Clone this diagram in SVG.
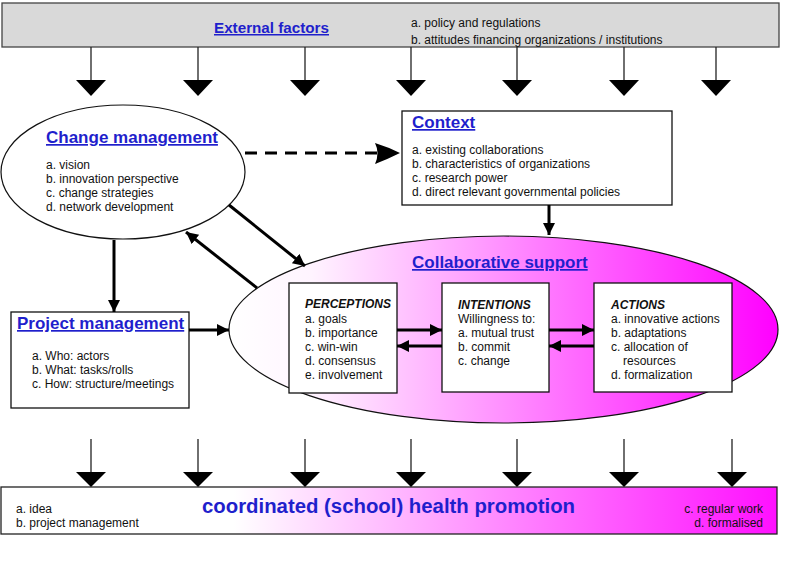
<svg xmlns="http://www.w3.org/2000/svg" width="785" height="588" viewBox="0 0 785 588">
<style>
text{font-family:"Liberation Sans",Arial,sans-serif;fill:#111}
.t{font-size:12px}
.h{font-size:17px;font-weight:bold;fill:#1f1fcc;text-decoration:underline}
.hi{font-size:12px;font-weight:bold;font-style:italic}
.box{fill:#fff;stroke:#111;stroke-width:1.3}
.thin{stroke:#222;stroke-width:1.3;fill:none}
.tri{fill:#000}
.thick{stroke:#000;stroke-width:3;fill:none}
</style>
<defs>
<linearGradient id="gCS" x1="0" y1="0" x2="1" y2="0">
<stop offset="0" stop-color="#ffffff"/>
<stop offset="0.15" stop-color="#fff4ff"/>
<stop offset="1" stop-color="#ff00ff"/>
</linearGradient>
<linearGradient id="gBot" x1="0" y1="0" x2="1" y2="0">
<stop offset="0" stop-color="#ffffff"/>
<stop offset="0.3" stop-color="#ffffff"/>
<stop offset="1" stop-color="#ff10ff"/>
</linearGradient>
<marker id="ah" markerUnits="userSpaceOnUse" markerWidth="14" markerHeight="14" refX="12" refY="6" orient="auto">
<path d="M0,0 L12,6 L0,12 Z" fill="#000"/>
</marker>
</defs>

<g id="external-factors">
<rect x="2" y="3" width="777" height="44" fill="#d9d9d9" stroke="#444" stroke-width="1.3"/>
<text class="h" x="214" y="33" font-size="15" textLength="115" lengthAdjust="spacingAndGlyphs" style="font-size:15px">External factors</text>
<text class="t" x="411" y="27">a. policy and regulations</text>
<text class="t" x="411" y="44">b. attitudes financing organizations / institutions</text>
</g>

<g id="change-management">
<ellipse cx="123" cy="172" rx="122" ry="67" fill="#fff" stroke="#111" stroke-width="1.2"/>
<text class="h" x="46" y="143">Change management</text>
<text class="t" x="46" y="169">a. vision</text>
<text class="t" x="46" y="183">b. innovation perspective</text>
<text class="t" x="46" y="197">c. change strategies</text>
<text class="t" x="46" y="211">d. network development</text>
</g>

<g id="context">
<rect class="box" x="402" y="111" width="270" height="94"/>
<text class="h" x="412" y="128">Context</text>
<text class="t" x="412" y="154">a. existing collaborations</text>
<text class="t" x="412" y="168">b. characteristics of organizations</text>
<text class="t" x="412" y="182">c. research power</text>
<text class="t" x="412" y="196">d. direct relevant governmental policies</text>
</g>

<g id="collaborative-support">
<ellipse cx="503.5" cy="329.5" rx="274.5" ry="93.5" fill="url(#gCS)" stroke="#111" stroke-width="1.2"/>
<text class="h" x="412" y="268">Collaborative support</text>
</g>

<g id="perceptions">
<rect class="box" x="289" y="283" width="108" height="110"/>
<text class="hi" x="305" y="308">PERCEPTIONS</text>
<text class="t" x="305" y="323">a. goals</text>
<text class="t" x="305" y="337">b. importance</text>
<text class="t" x="305" y="351">c. win-win</text>
<text class="t" x="305" y="365">d. consensus</text>
<text class="t" x="305" y="379">e. involvement</text>
</g>

<g id="intentions">
<rect class="box" x="442" y="283" width="107" height="109"/>
<text class="hi" x="458" y="309">INTENTIONS</text>
<text class="t" x="458" y="323">Willingness to:</text>
<text class="t" x="458" y="337">a. mutual trust</text>
<text class="t" x="458" y="351">b. commit</text>
<text class="t" x="458" y="365">c. change</text>
</g>

<g id="actions">
<rect class="box" x="594" y="283" width="138" height="109"/>
<text class="hi" x="611" y="309">ACTIONS</text>
<text class="t" x="611" y="323">a. innovative actions</text>
<text class="t" x="611" y="337">b. adaptations</text>
<text class="t" x="611" y="351">c. allocation of</text>
<text class="t" x="623" y="365">resources</text>
<text class="t" x="611" y="379">d. formalization</text>
</g>

<g id="project-management">
<rect class="box" x="11" y="312" width="178" height="96"/>
<text class="h" x="17" y="329">Project management</text>
<text class="t" x="32" y="360">a.  Who: actors</text>
<text class="t" x="32" y="374">b.  What: tasks/rolls</text>
<text class="t" x="32" y="388">c.  How: structure/meetings</text>
</g>

<g id="health-promotion">
<rect x="1" y="487" width="776" height="47" fill="url(#gBot)" stroke="#222" stroke-width="1.3"/>
<text class="t" x="16" y="513">a. idea</text>
<text class="t" x="16" y="527">b. project management</text>
<text x="202" y="513" textLength="373" lengthAdjust="spacingAndGlyphs" style="font-size:20px;font-weight:bold;fill:#1f1fcc">coordinated (school) health promotion</text>
<text class="t" x="763" y="513" text-anchor="end">c. regular work</text>
<text class="t" x="763" y="527" text-anchor="end">d. formalised</text>
</g>

<g id="connectors">
<!-- top arrows -->
<g>
<line class="thin" x1="91" y1="47" x2="91" y2="81"/><path class="tri" d="M76,80 L106,80 L91,96 Z"/>
<line class="thin" x1="198" y1="47" x2="198" y2="81"/><path class="tri" d="M183,80 L213,80 L198,96 Z"/>
<line class="thin" x1="305" y1="47" x2="305" y2="81"/><path class="tri" d="M290,80 L320,80 L305,96 Z"/>
<line class="thin" x1="411" y1="47" x2="411" y2="81"/><path class="tri" d="M396,80 L426,80 L411,96 Z"/>
<line class="thin" x1="517" y1="47" x2="517" y2="81"/><path class="tri" d="M502,80 L532,80 L517,96 Z"/>
<line class="thin" x1="624" y1="47" x2="624" y2="81"/><path class="tri" d="M609,80 L639,80 L624,96 Z"/>
<line class="thin" x1="716" y1="47" x2="716" y2="81"/><path class="tri" d="M701,80 L731,80 L716,96 Z"/>
</g>
<!-- bottom arrows -->
<g>
<line class="thin" x1="91" y1="439" x2="91" y2="473"/><path class="tri" d="M76,472 L106,472 L91,487 Z"/>
<line class="thin" x1="198" y1="439" x2="198" y2="473"/><path class="tri" d="M183,472 L213,472 L198,487 Z"/>
<line class="thin" x1="305" y1="439" x2="305" y2="473"/><path class="tri" d="M290,472 L320,472 L305,487 Z"/>
<line class="thin" x1="411" y1="439" x2="411" y2="473"/><path class="tri" d="M396,472 L426,472 L411,487 Z"/>
<line class="thin" x1="517" y1="439" x2="517" y2="473"/><path class="tri" d="M502,472 L532,472 L517,487 Z"/>
<line class="thin" x1="624" y1="439" x2="624" y2="473"/><path class="tri" d="M609,472 L639,472 L624,487 Z"/>
<line class="thin" x1="732" y1="439" x2="732" y2="473"/><path class="tri" d="M717,472 L747,472 L732,487 Z"/>
</g>
<!-- dashed change -> context -->
<line class="thick" x1="245" y1="153" x2="380" y2="153" stroke-dasharray="12 8"/>
<path d="M375,143 Q388,147 400,153 Q388,159 375,164 Q380,153 375,143 Z" fill="#000"/>
<!-- context -> collaborative -->
<line class="thick" x1="549" y1="205" x2="549" y2="235" marker-end="url(#ah)"/>
<!-- change -> project -->
<line class="thick" x1="114" y1="240" x2="114" y2="312" marker-end="url(#ah)"/>
<!-- project -> collaborative -->
<line class="thick" x1="189" y1="330" x2="229" y2="330" marker-end="url(#ah)"/>
<!-- change -> collaborative -->
<line class="thick" x1="229" y1="205" x2="305" y2="266" marker-end="url(#ah)"/>
<!-- collaborative -> change -->
<line class="thick" x1="257" y1="288" x2="186" y2="232" marker-end="url(#ah)"/>
<!-- perceptions <-> intentions -->
<line class="thick" x1="397" y1="330" x2="442" y2="330" marker-end="url(#ah)"/>
<line class="thick" x1="442" y1="346" x2="397" y2="346" marker-end="url(#ah)"/>
<!-- intentions <-> actions -->
<line class="thick" x1="549" y1="330" x2="594" y2="330" marker-end="url(#ah)"/>
<line class="thick" x1="594" y1="346" x2="549" y2="346" marker-end="url(#ah)"/>
</g>
</svg>
